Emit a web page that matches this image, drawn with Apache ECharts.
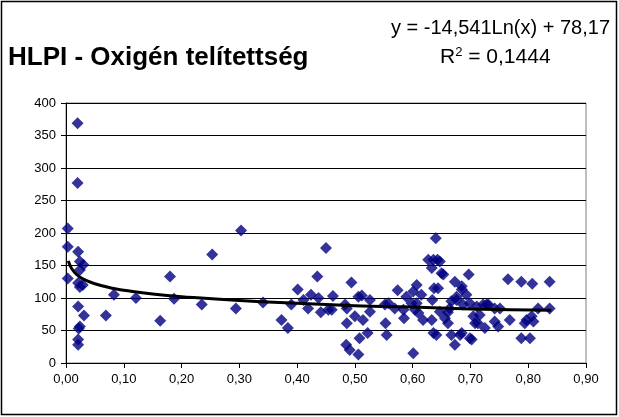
<!DOCTYPE html>
<html>
<head>
<meta charset="utf-8">
<script src="https://cdn.jsdelivr.net/npm/echarts@6/dist/echarts.min.js"></script>
<style>
  html, body { margin: 0; padding: 0; background: #fff; }
  #chart { width: 619px; height: 417px; }
</style>
</head>
<body>
<div id="chart"></div>
<script>
const points = [
  [0.003,207],[0.003,179],[0.003,130],[0.02,369],[0.02,277],[0.021,171],[0.024,156],[0.03,151],
  [0.024,143],[0.021,123],[0.029,120],[0.024,117],[0.021,87],[0.031,73],[0.024,56],[0.022,53],
  [0.021,36],[0.021,28],[0.069,73],[0.083,105],[0.121,100],[0.163,65],[0.18,133],[0.187,99],
  [0.235,90],[0.253,167],[0.303,204],[0.294,84],[0.341,93],
  [0.373,66],[0.384,54],[0.39,90],[0.401,113],[0.411,97],[0.419,84],[0.424,105],[0.435,133],
  [0.437,100],[0.441,78],[0.45,177],[0.454,82],[0.462,103],[0.46,82],[0.483,90],[0.485,28],
  [0.486,61],[0.486,84],[0.491,20],[0.494,124],[0.5,72],[0.506,13],[0.508,38],[0.506,102],
  [0.512,104],[0.514,66],[0.522,46],[0.526,97],[0.526,79],[0.552,90],[0.553,61],[0.555,43],
  [0.558,92],[0.569,84],[0.574,112],[0.584,82],[0.585,69],[0.589,102],[0.598,92],[0.601,15],
  [0.601,110],[0.604,82],[0.607,120],[0.607,92],[0.61,77],[0.615,105],[0.618,66],[0.627,159],
  [0.633,146],[0.633,66],[0.634,97],[0.636,159],[0.637,115],[0.636,46],[0.64,192],[0.641,43],
  [0.643,159],[0.644,115],[0.647,156],[0.647,79],[0.65,138],[0.653,136],[0.656,69],[0.661,61],
  [0.661,78],[0.664,84],[0.667,95],[0.667,43],[0.673,125],[0.673,28],[0.676,97],[0.676,102],
  [0.682,43],[0.685,113],[0.685,118],[0.685,46],[0.687,90],[0.693,105],[0.697,136],[0.699,38],
  [0.699,92],[0.702,36],[0.705,72],[0.708,61],[0.711,87],[0.713,61],[0.716,74],[0.722,90],
  [0.725,54],[0.728,90],[0.731,90],[0.742,84],[0.742,64],[0.748,56],[0.751,84],[0.765,129],
  [0.768,66],[0.788,125],[0.788,38],[0.794,61],[0.797,66],[0.803,38],[0.807,122],[0.806,72],
  [0.809,64],[0.817,84],[0.837,125],[0.837,84]
];

// logarithmic trend line
const trendX = [0.004, 0.01, 0.02, 0.03, 0.05, 0.08, 0.1, 0.15, 0.2, 0.3, 0.4, 0.5, 0.6, 0.7, 0.84];
const trendY = [157, 145, 135, 129, 122, 115, 112, 106, 102, 96, 92, 88, 86, 83, 81];

const title = 'HLPI - Oxigén telítettség';
const equation = 'y = -14,541Ln(x) + 78,17';
const rSquared = '0,1444';

const FONT = '"Liberation Sans", Arial, sans-serif';
const chart = echarts.init(document.getElementById('chart'), null, { renderer: 'canvas' });

chart.setOption({
  animation: false,
  textStyle: { fontFamily: FONT },
  grid: {
    left: 66, right: 33, top: 103, bottom: 54,
    show: true, borderColor: '#808080', borderWidth: 1, backgroundColor: '#fff'
  },
  xAxis: {
    type: 'value', min: 0, max: 0.9, interval: 0.1,
    axisLine: { lineStyle: { color: '#000', width: 1 } },
    axisTick: { show: true, length: 5, lineStyle: { color: '#000' } },
    axisLabel: { color: '#000', fontSize: 13, margin: 10,
      formatter: v => v.toFixed(2).replace('.', ',') },
    splitLine: { show: false }
  },
  yAxis: {
    type: 'value', min: 0, max: 400, interval: 50,
    axisLine: { show: true, lineStyle: { color: '#000', width: 1 } },
    axisTick: { show: true, length: 5, lineStyle: { color: '#000' } },
    axisLabel: { color: '#000', fontSize: 13, margin: 10 },
    splitLine: { show: true, lineStyle: { color: '#000', width: 1 } }
  },
  graphic: [
    { type: 'rect', shape: { x: 1.5, y: 1.5, width: 615, height: 413 },
      style: { fill: null, stroke: '#000', lineWidth: 1.5 }, z: 100 },
    { type: 'text', left: 8, top: 45,
      style: { text: title, font: 'bold 26px ' + FONT, fill: '#000' } },
    { type: 'text', right: 9, top: 18,
      style: { text: equation, font: '20px ' + FONT, fill: '#000' } },
    { type: 'text', left: 440, top: 46,
      style: {
        text: '{n|R}{s|2}{n| = ' + rSquared + '}',
        rich: {
          n: { fontSize: 21, fontFamily: FONT, fill: '#000', verticalAlign: 'bottom' },
          s: { fontSize: 13, fontFamily: FONT, fill: '#000', verticalAlign: 'top', padding: [0, 0, 9, 0] }
        }
      } }
  ],
  series: [
    {
      type: 'scatter',
      data: points,
      symbol: 'diamond',
      symbolSize: 12,
      itemStyle: { color: '#000080' },
      z: 2
    },
    {
      type: 'line',
      data: trendX.map((x, i) => [x, trendY[i]]),
      smooth: true,
      showSymbol: false,
      lineStyle: { color: '#000', width: 3 },
      z: 3
    }
  ]
});
</script>
</body>
</html>
